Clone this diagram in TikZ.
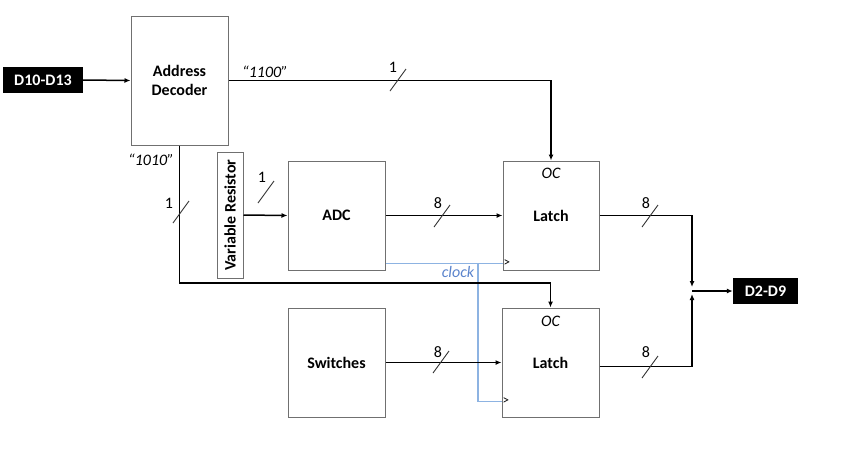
\documentclass[tikz,border=0pt]{standalone}
\usepackage{fontspec}
\setmainfont{Carlito}
\usetikzlibrary{arrows.meta, calc}

\begin{document}
\begin{tikzpicture}[x=1pt, y=-1pt,
    block/.style={draw=borderColour, line width=1pt, fill=white, inner sep=0pt, align=center,
        font=\bfseries\fontsize{16}{19}\selectfont},
    port/.style={fill=black, text=white, inner sep=0pt, font=\bfseries\fontsize{16}{19}\selectfont},
    wire/.style={line width=1.5pt, draw=black},
    clk/.style={line width=1.2pt, draw=clockLine},
    busmark/.style={line width=0.9pt, draw=black!80},
    buslabel/.style={font=\fontsize{16}{19}\selectfont, inner sep=0pt},
    sig/.style={font=\itshape\fontsize{16}{19}\selectfont, inner sep=0pt},
    tip/.style={-{Latex[length=6pt, width=5pt]}}
]
    \definecolor{borderColour}{HTML}{707070}
    \definecolor{clockLine}{HTML}{8DB3E2}
    \definecolor{clockText}{HTML}{5B84CC}

    \useasboundingbox (0,0) rectangle (853,475);

    % Blocks
    \node[port, minimum width=80, minimum height=26] (inD) at (43,80) {D10-D13};
    \node[block, minimum width=97, minimum height=129] (dec) at (179.5,80.5) {Address\\Decoder};
    \node[block, rotate=90, minimum width=126, minimum height=26] (vres) at (230,215) {Variable Resistor};
    \node[block, minimum width=97, minimum height=109] (adc) at (336.5,215.5) {ADC};
    \node[block, minimum width=96, minimum height=109] (latchA) at (551,215.5) {Latch};
    \node[block, minimum width=97, minimum height=109] (sw) at (336.5,362.5) {Switches};
    \node[block, minimum width=97, minimum height=109] (latchB) at (550.5,362.5) {Latch};
    \node[port, minimum width=65, minimum height=26] (outD) at (765.5,291) {D2-D9};

    % Enable and clock inputs of the latches
    \node[sig] (ocA) at ($(latchA.north)+(0,13)$) {OC};
    \node[sig] (ocB) at ($(latchB.north)+(0,14)$) {OC};
    \coordinate (clkA) at ($(latchA.south west)+(0,-7)$);
    \coordinate (clkB) at ($(latchB.south west)+(0,-16)$);
    \node[anchor=west, inner sep=1pt, font=\fontsize{13}{15}\selectfont] (edgeA) at (clkA) {>};
    \node[anchor=west, inner sep=1pt, font=\fontsize{13}{15}\selectfont] (edgeB) at (clkB) {>};

    % Clock line
    \coordinate (clkSplit) at (478,263);
    \draw[clk] (adc.east |- clkA) -- (clkA);
    \draw[clk] (clkSplit) |- (clkB);
    \node[sig, text=clockText] (clkLabel) at (458,272) {clock};

    % Address lines
    \coordinate (bendB) at (179.5,283);
    \draw[wire, tip] (inD.east) -- (dec.west);
    \draw[wire, tip] (dec.east) -| (latchA.north);
    \draw[wire, tip] (dec.south) -- (bendB) -| (latchB.north);
    \node[sig] (selA) at (265,72) {“1100”};
    \node[sig] (selB) at (151,160) {“1010”};

    % Data lines
    \draw[wire, tip] (vres.south) -- (adc.west);
    \draw[wire, tip] (adc.east) -- (latchA.west);
    \draw[wire, tip] (sw.east) -- (latchB.west);

    % Outputs joined onto the data bus
    \coordinate (join) at (692,291);
    \coordinate (joinTop) at ($(join)+(0,-4)$);
    \coordinate (joinBot) at ($(join)+(0,3)$);
    \draw[wire, tip] (latchA.east) -| (joinTop);
    \draw[wire, tip] ($(latchB.east)+(0,4)$) -| (joinBot);
    \draw[wire, tip] (join) -- (outD.west);

    % Bus width marks
    \foreach \px/\py/\lx/\ly/\txt [count=\i] in {398/80/393/67/1, 181/212/169/203/1, 266/192/262/177/1,
        442/216/438/203/8, 650/216/646/203/8, 441/362/438/352/8, 650/367/646/352/8}
    {
        \draw[busmark] (\px-8,\py+11) -- (\px+8,\py-11);
        \node[buslabel] (width\i) at (\lx,\ly) {\txt};
    }
\end{tikzpicture}
\end{document}
